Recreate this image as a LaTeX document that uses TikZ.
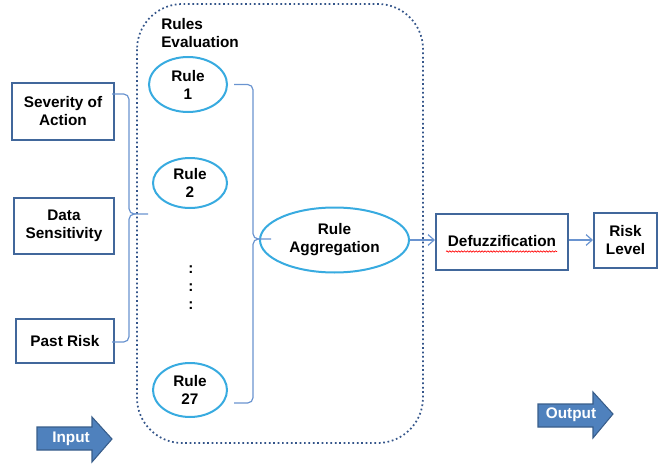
\documentclass[tikz,border=0pt]{standalone}
\usepackage{fontspec}
\setmainfont{Liberation Sans}
\usetikzlibrary{shapes.geometric,arrows.meta,calc,decorations.pathmorphing}
\definecolor{boxblue}{HTML}{41679B}
\definecolor{ellblue}{HTML}{38ABE0}
\definecolor{connblue}{HTML}{6A94D0}
\definecolor{dotblue}{HTML}{34558A}
\definecolor{arrfill}{HTML}{4F81BD}
\definecolor{arrdraw}{HTML}{385D8A}
\begin{document}
\begin{tikzpicture}[x=0.75pt,y=-0.75pt,
  every node/.style={font=\fontsize{11.5}{13.5}\selectfont\bfseries, align=center, inner sep=0pt},
  sqbox/.style={draw=boxblue, line width=1.5pt, fill=white},
  rulell/.style={ellipse, draw=ellblue, line width=1.5pt, fill=white},
  conn/.style={draw=connblue, line width=0.9pt},
  blockarrow/.style={fill=arrfill, draw=arrdraw, line width=0.8pt, line join=miter},
  arrtext/.style={text=white}
]
\useasboundingbox (0,0) rectangle (665,464);
% dotted group
\draw[dotblue, line width=1.3pt, dotted, rounded corners=34pt] (137,4) rectangle (423,443);
\node[anchor=north west, align=left] (reval) at (161,18) {Rules\\Evaluation};
% inputs
\node[sqbox, minimum width=76.5pt, minimum height=42.75pt] (sev) at (63,111.5) {Severity of\\Action};
\node[sqbox, minimum width=75pt, minimum height=42pt] (data) at (64,226) {Data\\Sensitivity};
\node[sqbox, minimum width=73.5pt, minimum height=33pt] (past) at (65,341) {Past Risk};
% rules
\node[rulell, minimum width=58.5pt, minimum height=41.25pt] (r1) at (188,84.5) {Rule\\1};
\node[rulell, minimum width=55.5pt, minimum height=37.5pt] (r2) at (190,183) {Rule\\2};
\node (dots) at (191,288) {:\\[0pt]:\\[0pt]:};
\node[rulell, minimum width=55.5pt, minimum height=40.5pt] (r27) at (190,390) {Rule\\27};
\node[rulell, minimum width=111.75pt, minimum height=48.75pt] (agg) at (334.5,240) {Rule\\Aggregation};
% outputs
\node[sqbox, minimum width=99pt, minimum height=42pt] (def) at (502,241.5) {Defuzzification};
\node[sqbox, minimum width=47.25pt, minimum height=41.25pt] (risk) at (625.5,240) {Risk\\Level};
\draw[red, line width=0.5pt, decorate, decoration={snake, amplitude=0.5pt, segment length=2.2pt}] (446,251.5) -- (557,251.5);
% left brace
\coordinate (lb) at (129,214);
\coordinate (lbt) at (148,214);
\draw[conn, rounded corners=4pt] ($(sev.east)+(-3,-17.5)$) -- ($(sev.east -| lb)+(0,-17.5)$) -- (lb) -- (lbt);
\draw[conn, rounded corners=4pt] ($(past.east)+(-3,1)$) -- ($(past.east -| lb)+(0,1)$) -- (lb) -- ++(5,0);
% right brace
\coordinate (rb) at (253,239);
\draw[conn, rounded corners=4pt] ($(r1.east)+(6,0)$) -- (r1.east -| rb) -- (rb) -- ($(agg.west)+(12,-1)$);
\draw[conn, rounded corners=4pt] ($(r27.east)+(6,13)$) -- ($(r27.east -| rb)+(0,13)$) -- (rb) -- ++(5,0);
% arrows
\draw[conn, -{Straight Barb[length=4.5pt,width=8pt]}] (agg.east) -- (agg.east -| def.west);
\draw[conn, -{Straight Barb[length=4.5pt,width=8pt]}] (def.east |- risk) -- (risk.west);
% block arrows
\draw[blockarrow] (37,427) -- (92,427) -- (92,417) -- (112,439) -- (92,462) -- (92,450) -- (37,450) -- cycle;
\node[arrtext] (inp) at (71,439) {Input};
\draw[blockarrow] (538,404) -- (593,404) -- (593,392) -- (613,414) -- (593,438) -- (593,427) -- (538,427) -- cycle;
\node[arrtext] (outp) at (571,415) {Output};
\end{tikzpicture}
\end{document}
